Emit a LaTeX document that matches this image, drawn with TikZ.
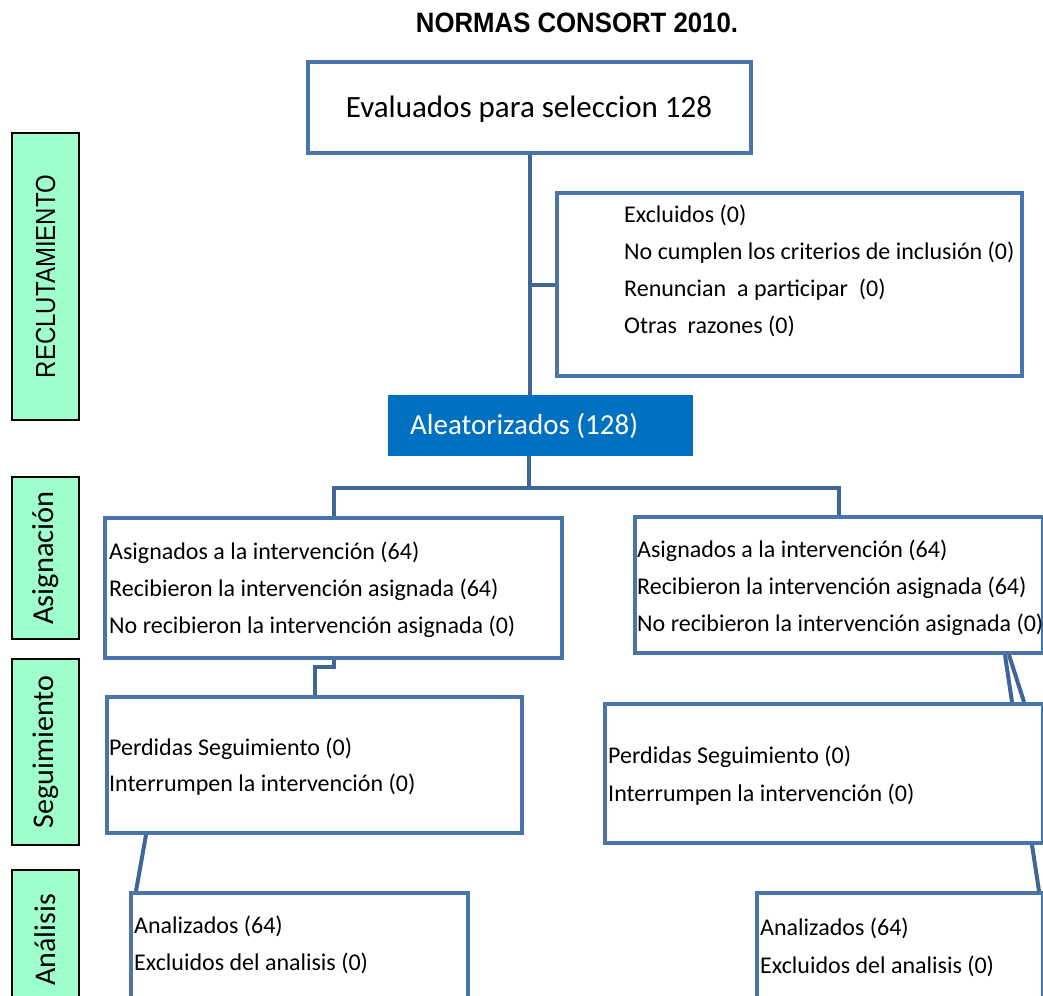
\documentclass[tikz,border=0pt]{standalone}
\usepackage{fontspec}
\setmainfont{Carlito}
\newfontfamily\arialfont{Liberation Sans}
\usepackage{tikz}
\usetikzlibrary{positioning}
\usepackage{xcolor}
\definecolor{boxblue}{HTML}{4A74AC}
\definecolor{linkblue}{HTML}{3E6696}
\definecolor{randblue}{HTML}{0070C0}
\definecolor{stagegreen}{HTML}{9FFFCC}
\tikzset{
	flowbox/.style={draw=boxblue, line width=4pt, fill=white, inner sep=0pt},
	stagebox/.style={draw=black, line width=1.5pt, fill=stagegreen, inner sep=0pt, rotate=90, minimum height=67pt},
	link/.style={draw=linkblue, line width=4pt},
	boxtext/.style={anchor=base west, align=left, inner sep=0pt},
}

\begin{document}
\begin{tikzpicture}[x=1pt, y=-1pt]
	\useasboundingbox (0,0) rectangle (1043,995);
	\clip (0,0) rectangle (1043,995);
	% boxes
	\node[flowbox, minimum width=443pt, minimum height=91pt] (eval) at (529.5,107.5) {};
	\node[flowbox, minimum width=465pt, minimum height=183pt] (excl) at (789.5,284.5) {};
	\node[fill=randblue, inner sep=0pt, minimum width=305pt, minimum height=61pt] (rand) at (540.5,425.5) {};
	\node[flowbox, minimum width=457pt, minimum height=140pt] (asignL) at (333.5,588) {};
	\node[flowbox, minimum width=408pt, minimum height=136pt] (asignR) at (839,585) {};
	\node[flowbox, minimum width=415pt, minimum height=136pt] (segL) at (314.5,765) {};
	\node[flowbox, minimum width=438pt, minimum height=139pt] (segR) at (824,773.5) {};
	\node[flowbox, minimum width=337pt, minimum height=117pt] (analL) at (299.5,951.5) {};
	\node[flowbox, minimum width=286pt, minimum height=117pt] (analR) at (900,951.5) {};
	% connectors
	\coordinate (split) at (529,488);
	\draw[link] (eval.south) -- (eval.south |- rand.north);
	\draw[link] (eval.south |- excl.west) -- (excl.west);
	\draw[link] (split |- rand.south) -- (split);
	\draw[link] (asignL.north) |- (split) -| (asignR.north);
	\draw[link] (asignL.south) -- ++(0,7) -| (segL.north);
	\draw[link] ([xshift=-40pt]asignR.south east) -- ([xshift=-33pt]segR.north east);
	\draw[link] ([xshift=-36pt]asignR.south east) -- ([xshift=-21pt]segR.north east);
	\draw[link] ([xshift=41pt]segL.south west) -- ([xshift=7pt]analL.north west);
	\draw[link] ([xshift=-13pt]segR.south east) -- ([xshift=-6pt]analR.north east);
	% texts (base = last line)
	\node[anchor=base, inner sep=0pt, font=\arialfont\bfseries\fontsize{28}{32}\selectfont] (title) at (577,33) {\scalebox{0.92}[1]{NORMAS CONSORT 2010.}};
	\node[anchor=base, inner sep=0pt, font=\fontsize{31}{36}\selectfont] (evaltext) at (529,118) {Evaluados para seleccion 128};
	\node[boxtext, text=white, font=\fontsize{29}{34}\selectfont] (randtext) at (410,434) {Aleatorizados (128)};
	\node[boxtext, font=\fontsize{24}{37}\selectfont] (excltext) at (624,333) {Excluidos (0)\\No cumplen los criterios de inclusión (0)\\Renuncian\ \ a participar\ \ (0)\\Otras\ \ razones (0)};
	\node[boxtext, font=\fontsize{24}{36.6}\selectfont] (asignLtext) at (109,633) {Asignados a la intervención (64)\\Recibieron la intervención asignada (64)\\No recibieron la intervención asignada (0)};
	\node[boxtext, font=\fontsize{24}{36.6}\selectfont] (asignRtext) at (637,631) {Asignados a la intervención (64)\\Recibieron la intervención asignada (64)\\No recibieron la intervención asignada (0)};
	\node[boxtext, font=\fontsize{24}{36}\selectfont] (segLtext) at (109,791) {Perdidas Seguimiento (0)\\Interrumpen la intervención (0)};
	\node[boxtext, font=\fontsize{24}{38}\selectfont] (segRtext) at (608,801) {Perdidas Seguimiento (0)\\Interrumpen la intervención (0)};
	\node[boxtext, font=\fontsize{24}{37}\selectfont] (analLtext) at (134,970) {Analizados (64)\\Excluidos del analisis (0)};
	\node[boxtext, font=\fontsize{24}{38}\selectfont] (analRtext) at (760,973) {Analizados (64)\\Excluidos del analisis (0)};
	% stages
	\node[stagebox, minimum width=287pt, font=\arialfont\fontsize{24}{26}\selectfont] (reclut) at (45.5,276.5) {\scalebox{1}[1.15]{RECLUTAMIENTO}};
	\node[stagebox, minimum width=162pt, font=\fontsize{30.5}{32}\selectfont] (asig) at (45.5,558) {Asignación};
	\node[stagebox, minimum width=186pt, font=\fontsize{30}{32}\selectfont] (segui) at (45.5,752) {Seguimiento};
	\node[stagebox, minimum width=140pt, font=\fontsize{30}{32}\selectfont] (anali) at (45.5,940) {Análisis};
\end{tikzpicture}
\end{document}
